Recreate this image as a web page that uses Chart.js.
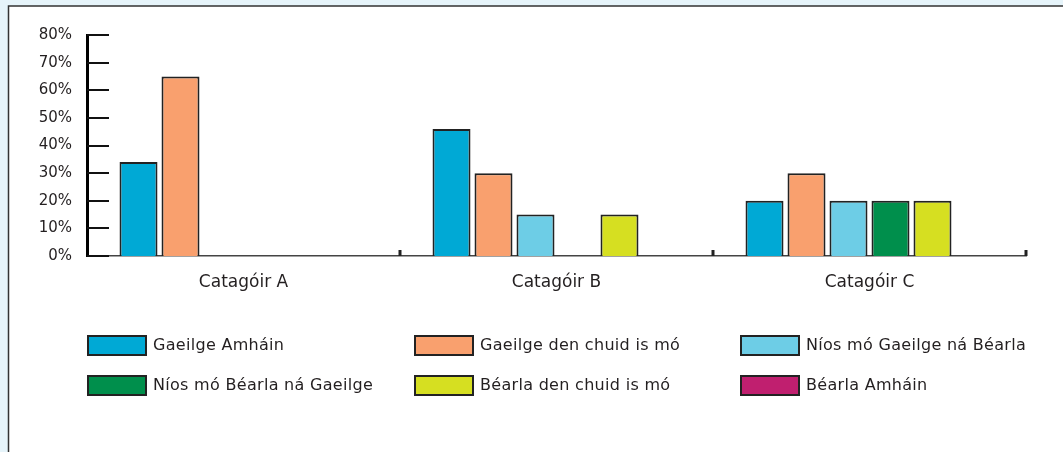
<!DOCTYPE html>
<html>
<head>
<meta charset="utf-8">
<script src="https://cdn.jsdelivr.net/npm/chart.js@4/dist/chart.umd.min.js"></script>
<style>
  html, body { margin: 0; padding: 0; background: #e6f4fa; }
  canvas { display: block; }
</style>
</head>
<body>
<canvas id="c" width="1063" height="452"></canvas>
<script>
// ---- data ----
const categories = ['Catagóir A', 'Catagóir B', 'Catagóir C'];
const seriesLabels = [
  'Gaeilge Amháin',
  'Gaeilge den chuid is mó',
  'Níos mó Gaeilge ná Béarla',
  'Níos mó Béarla ná Gaeilge',
  'Béarla den chuid is mó',
  'Béarla Amháin'
];
const gaeilgeAmhain        = [34, 46, 20];
const gaeilgeDenChuid      = [65, 30, 30];
const niosMoGaeilge        = [0, 15, 20];
const niosMoBearla         = [0, 0, 20];
const bearlaDenChuid       = [0, 15, 20];
const bearlaAmhain         = [0, 0, 0];
const yTickValues = [0, 10, 20, 30, 40, 50, 60, 70, 80];
const seriesColors = ['#00a9d5', '#f9a06e', '#6dcde6', '#008f4c', '#d6df21', '#c01f6f'];

const seriesValues = [gaeilgeAmhain, gaeilgeDenChuid, niosMoGaeilge, niosMoBearla, bearlaDenChuid, bearlaAmhain];
const FONT = 'DejaVu Sans';
const TEXT = '#231f20';

const bgPlugin = {
  id: 'bg',
  beforeDraw(chart) {
    const ctx = chart.ctx;
    ctx.save();
    ctx.fillStyle = '#e6f4fa';
    ctx.fillRect(0, 0, chart.width, chart.height);
    ctx.fillStyle = '#ffffff';
    ctx.fillRect(9, 6, chart.width, chart.height);
    ctx.strokeStyle = '#333';
    ctx.lineWidth = 1.5;
    ctx.beginPath();
    ctx.moveTo(8.5, chart.height + 2);
    ctx.lineTo(8.5, 6);
    ctx.lineTo(chart.width + 2, 6);
    ctx.stroke();
    ctx.restore();
  }
};

const marksPlugin = {
  id: 'marks',
  afterDatasetsDraw(chart) {
    const ctx = chart.ctx;
    const y = chart.scales.y, x = chart.scales.x;
    const area = chart.chartArea;
    ctx.save();
    ctx.strokeStyle = '#111';
    ctx.lineWidth = 2;
    yTickValues.forEach(v => {
      const py = Math.round(y.getPixelForValue(v));
      ctx.beginPath();
      ctx.moveTo(area.left, py);
      ctx.lineTo(area.left + 22, py);
      ctx.stroke();
    });
    const half = (x.getPixelForValue(1) - x.getPixelForValue(0)) / 2;
    ctx.fillStyle = '#222';
    categories.forEach((c, i) => {
      const px = x.getPixelForValue(i) + half;
      ctx.fillRect(px - 1.5, area.bottom - 6, 3, 6);
    });
    ctx.restore();
  }
};

const legendPlugin = {
  id: 'gridLegend',
  afterDraw(chart) {
    const ctx = chart.ctx;
    const colX = [87, 414, 740];
    const rowY = [335, 375];
    ctx.save();
    ctx.font = '16px "' + FONT + '"';
    if ('letterSpacing' in ctx) ctx.letterSpacing = '0.3px';
    ctx.textBaseline = 'middle';
    chart.data.datasets.forEach((ds, i) => {
      const bx = colX[i % 3], by = rowY[Math.floor(i / 3)];
      ctx.fillStyle = ds.backgroundColor;
      ctx.fillRect(bx, by, 60, 21);
      ctx.strokeStyle = '#222';
      ctx.lineWidth = 2;
      ctx.strokeRect(bx + 1, by + 1, 58, 19);
      ctx.fillStyle = TEXT;
      ctx.fillText(ds.label, bx + 66, by + 11);
    });
    ctx.restore();
  }
};

new Chart(document.getElementById('c'), {
  type: 'bar',
  data: {
    labels: categories,
    datasets: seriesLabels.map((lab, i) => ({
      label: lab,
      data: seriesValues[i],
      backgroundColor: seriesColors[i],
      borderColor: '#222',
      borderWidth: 2,
      borderSkipped: 'bottom',
      categoryPercentage: 0.805,
      barPercentage: 0.905
    }))
  },
  options: {
    responsive: false,
    animation: false,
    devicePixelRatio: 1,
    layout: { padding: { top: 35, right: 37, bottom: 0, left: 0 } },
    plugins: { legend: { display: false }, tooltip: { enabled: false } },
    scales: {
      x: {
        grid: { display: false, drawTicks: false },
        border: { display: true, color: '#444', width: 1.5 },
        ticks: { color: TEXT, font: { family: FONT, size: 17 }, padding: 16 },
        afterFit(s) { s.height = 452 - 256; }
      },
      y: {
        min: 0, max: 80,
        afterBuildTicks(s) { s.ticks = yTickValues.map(v => ({ value: v })); },
        grid: { display: false, drawTicks: false },
        border: { display: true, color: '#000', width: 3 },
        ticks: { color: TEXT, font: { family: FONT, size: 15 }, padding: 15, callback: v => v + '%' },
        afterFit(s) { s.width = 87; }
      }
    }
  },
  plugins: [bgPlugin, marksPlugin, legendPlugin]
});
</script>
</body>
</html>
